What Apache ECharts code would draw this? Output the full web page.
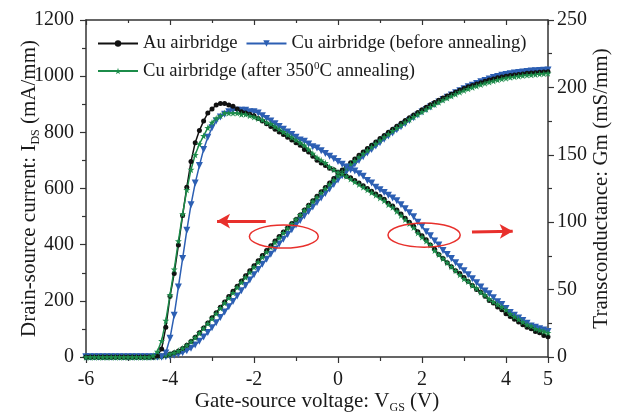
<!DOCTYPE html>
<html>
<head>
<meta charset="utf-8">
<script src="https://cdn.jsdelivr.net/npm/echarts@6/dist/echarts.min.js"></script>
<style>
  html, body { margin: 0; padding: 0; background: #fff; }
  #chart { width: 621px; height: 415px; }
</style>
</head>
<body>
<div id="chart"></div>
<script>
// gate-source voltage (V)
const vgs = [
  -6, -5.9, -5.8, -5.7, -5.6, -5.5, -5.4, -5.3, -5.2, -5.1,
  -5, -4.9, -4.8, -4.7, -4.6, -4.5, -4.4, -4.3, -4.2, -4.1,
  -4, -3.9, -3.8, -3.7, -3.6, -3.5, -3.4, -3.3, -3.2, -3.1,
  -3, -2.9, -2.8, -2.7, -2.6, -2.5, -2.4, -2.3, -2.2, -2.1,
  -2, -1.9, -1.8, -1.7, -1.6, -1.5, -1.4, -1.3, -1.2, -1.1,
  -1, -0.9, -0.8, -0.7, -0.6, -0.5, -0.4, -0.3, -0.2, -0.1,
  0, 0.1, 0.2, 0.3, 0.4, 0.5, 0.6, 0.7, 0.8, 0.9,
  1, 1.1, 1.2, 1.3, 1.4, 1.5, 1.6, 1.7, 1.8, 1.9,
  2, 2.1, 2.2, 2.3, 2.4, 2.5, 2.6, 2.7, 2.8, 2.9,
  3, 3.1, 3.2, 3.3, 3.4, 3.5, 3.6, 3.7, 3.8, 3.9,
  4, 4.1, 4.2, 4.3, 4.4, 4.5, 4.6, 4.7, 4.8, 4.9,
  5
];

// drain-source current (mA/mm), left axis
const idsAu = [
  0, 0, 0, 0, 0, 0, 0, 0, 0, 0,
  0, 0, 0, 0, 0, 0, 0, 1, 3, 6,
  10, 15, 21, 30, 42, 55, 70, 86, 103, 121,
  140, 158, 177, 196, 215, 234, 252, 271, 289, 307,
  325, 343, 361, 379, 396, 413, 429, 445, 460, 475,
  490, 506, 523, 540, 556, 572, 588, 604, 620, 636,
  652, 666, 679, 692, 705, 718, 730, 742, 754, 766,
  778, 789, 800, 811, 822, 832, 842, 852, 862, 871,
  880, 889, 898, 906, 914, 922, 929, 936, 943, 950,
  956, 962, 967, 972, 977, 982, 986, 990, 994, 997,
  1000, 1002, 1004, 1006, 1008, 1010, 1011, 1012, 1014, 1015,
  1016
];
const idsCuBefore = [
  0, 0, 0, 0, 0, 0, 0, 0, 0, 0,
  0, 0, 0, 0, 0, 0, 0, 0, 0, 1,
  3, 6, 10, 15, 22, 31, 43, 56, 71, 87,
  104, 122, 141, 160, 179, 198, 217, 236, 255, 274,
  293, 312, 330, 348, 366, 384, 402, 419, 436, 453,
  470, 486, 502, 518, 534, 550, 566, 582, 598, 614,
  630, 645, 659, 673, 687, 700, 713, 726, 739, 751,
  763, 775, 787, 798, 809, 820, 831, 842, 852, 862,
  872, 881, 890, 899, 908, 917, 925, 933, 941, 948,
  955, 962, 968, 974, 980, 985, 990, 995, 999, 1003,
  1006, 1009, 1011, 1013, 1015, 1017, 1018, 1019, 1020, 1021,
  1022
];
const idsCuAfter = [
  0, 0, 0, 0, 0, 0, 0, 0, 0, 0,
  0, 0, 0, 0, 0, 0, 0, 1, 3, 7,
  11, 16, 22, 31, 42, 55, 69, 85, 102, 119,
  137, 155, 174, 192, 211, 229, 248, 266, 284, 302,
  320, 338, 356, 374, 391, 408, 425, 442, 458, 474,
  490, 506, 522, 538, 554, 569, 585, 600, 615, 630,
  645, 659, 673, 686, 699, 712, 724, 736, 748, 760,
  772, 783, 794, 805, 816, 826, 836, 846, 855, 864,
  873, 882, 891, 899, 907, 915, 922, 929, 936, 943,
  949, 955, 960, 965, 970, 975, 979, 983, 987, 990,
  993, 996, 998, 1000, 1002, 1004, 1005, 1006, 1008, 1009,
  1010
];

// transconductance (mS/mm), right axis
const gmAu = [
  0, 0, 0, 0, 0, 0, 0, 0, 0, 0,
  0, 0, 0, 0, 0, 0, 0, 1, 6, 22,
  45, 62, 83, 105, 126, 145, 159, 168, 175, 181,
  184, 187, 188, 188, 187, 186, 184, 182, 181, 180,
  179, 177, 175, 173, 171, 169, 167, 165, 163, 161,
  159, 157, 154, 152, 149, 146, 144, 142, 140, 139,
  137, 136, 134, 133, 131, 129, 127, 125, 123, 121,
  119, 117, 114, 112, 109, 106, 103, 100, 97, 93,
  90, 87, 83, 80, 76, 73, 70, 67, 64, 62,
  59, 56, 53, 50, 48, 45, 42, 40, 37, 35,
  32, 30, 28, 26, 24, 22, 21, 19, 18, 16,
  15
];
const gmCuBefore = [
  0, 0, 0, 0, 0, 0, 0, 0, 0, 0,
  0, 0, 0, 0, 0, 0, 0, 0, 0, 3,
  14, 31, 52, 73, 94, 113, 129, 142, 154, 163,
  170, 175, 178, 180, 182, 183, 183, 183, 183, 182,
  182, 181, 179, 177, 175, 173, 171, 169, 167, 165,
  163, 161, 160, 158, 156, 155, 153, 151, 149, 147,
  145, 143, 141, 139, 138, 136, 134, 131, 129, 126,
  124, 122, 120, 118, 116, 113, 110, 107, 104, 100,
  97, 93, 90, 86, 83, 79, 76, 73, 70, 67,
  64, 61, 58, 55, 52, 49, 47, 44, 41, 39,
  36, 33, 31, 29, 27, 25, 23, 22, 21, 20,
  19
];
const gmCuAfter = [
  0, 0, 0, 0, 0, 0, 0, 0, 0, 0,
  0, 0, 0, 0, 0, 0, 1, 4, 12, 27,
  46, 65, 86, 106, 124, 139, 150, 158, 164, 170,
  174, 177, 179, 181, 181, 181, 181, 180, 180, 179,
  178, 177, 176, 174, 173, 171, 169, 167, 165, 163,
  161, 159, 157, 154, 151, 148, 146, 144, 141, 139,
  137, 136, 134, 132, 130, 128, 126, 124, 122, 120,
  118, 116, 113, 111, 108, 105, 102, 99, 96, 92,
  89, 86, 83, 79, 76, 73, 70, 67, 64, 61,
  58, 56, 53, 51, 48, 46, 43, 41, 39, 37,
  35, 32, 30, 28, 26, 24, 23, 21, 20, 19,
  18
];

const names = ['Au airbridge', 'Cu airbridge (before annealing)', 'Cu airbridge (after 350\u00b0C annealing)'];

// annotation marks in (V, mA/mm): ellipse [cx, cy, rx, ry], arrow [from, to]
const ellipses = [[-1.29, 429, 0.82, 41], [2.05, 434, 0.86, 43]];
const arrows = [[[-1.72, 484], [-2.88, 484]], [[3.19, 445], [4.16, 448]]];

const serif = '"Liberation Serif", "DejaVu Serif", serif';
const ink = '#1a1a1a';
const STAR = 'path://M50,0 L61,35 L98,35 L68,57 L79,91 L50,70 L21,91 L32,57 L2,35 L39,35 Z';
const looks = [
  { color: '#111111', symbol: 'circle', size: 5, rotate: 0 },
  { color: '#2c5fb3', symbol: 'triangle', size: 7, rotate: 180 },
  { color: '#1c8c4a', symbol: STAR, size: 7, rotate: 0 }
];

const pairs = (ys) => vgs.map((v, i) => [v, ys[i]]);

function curve(k, ys, yAxisIndex, extra) {
  const look = looks[k];
  return Object.assign({
    name: names[k],
    type: 'line',
    yAxisIndex,
    data: pairs(ys),
    symbol: look.symbol,
    symbolSize: look.size,
    symbolRotate: look.rotate,
    showSymbol: true,
    showAllSymbol: true,
    lineStyle: { color: look.color, width: 1.5 },
    itemStyle: { color: look.color },
    emphasis: { disabled: true }
  }, extra || {});
}

const arrowLines = {
  silent: true,
  symbol: ['none', 'arrow'],
  symbolSize: [11, 13],
  label: { show: false },
  lineStyle: { color: '#e8302c', width: 3, type: 'solid' },
  data: arrows.map(([a, b]) => [{ coord: a }, { coord: b }])
};

const axisLine = { show: true, onZero: false, lineStyle: { color: '#333', width: 1.5 } };
const tickStyle = { color: '#333', width: 1.2 };
const labelStyle = { color: ink, fontFamily: serif, fontSize: 20, formatter: (v) => String(v) };
const nameStyle = {
  color: ink, fontFamily: serif, fontSize: 21,
  rich: { sub: { fontFamily: serif, fontSize: 12, color: ink, padding: [14, 0, 0, 0] } }
};

const legendBase = {
  left: 97,
  padding: 0,
  itemWidth: 40,
  itemHeight: 8,
  itemGap: 8,
  selectedMode: false,
  textStyle: {
    color: ink, fontFamily: serif, fontSize: 18.6,
    rich: {
      t: { color: ink, fontFamily: serif, fontSize: 18.6 },
      sup: { color: ink, fontFamily: serif, fontSize: 11, padding: [0, 0, 9, 0] }
    }
  },
  formatter: (n) => n === names[2] ? '{t|Cu airbridge (after 350}{sup|0}{t|C annealing)}' : n
};

const option = {
  animation: false,
  backgroundColor: '#fff',
  grid: { left: 86, right: 73, top: 20, bottom: 58, containLabel: false, outerBoundsMode: 'none' },
  legend: [
    Object.assign({ top: 34, data: [names[0], names[1]] }, legendBase),
    Object.assign({ top: 61, data: [names[2]] }, legendBase)
  ],
  xAxis: [
    {
      type: 'value', min: -6, max: 5, interval: 2,
      name: 'Gate-source voltage: V{sub|GS} (V)',
      nameLocation: 'middle', nameGap: 31, nameMoveOverlap: false, nameTextStyle: nameStyle,
      axisLine,
      axisTick: { length: 6, lineStyle: tickStyle },
      minorTick: { show: true, splitNumber: 2, length: 4, lineStyle: tickStyle },
      axisLabel: Object.assign({ margin: 13 }, labelStyle),
      splitLine: { show: false }
    },
    {
      type: 'value', position: 'top', min: -6, max: 5, interval: 2,
      axisLine,
      axisTick: { inside: true, length: 5, lineStyle: tickStyle },
      minorTick: { show: true, splitNumber: 2, length: 3, lineStyle: tickStyle },
      axisLabel: { show: false },
      splitLine: { show: false }
    }
  ],
  yAxis: [
    {
      type: 'value', min: 0, max: 1200, interval: 200,
      name: 'Drain-source current: I{sub|DS} (mA/mm)',
      nameLocation: 'middle', nameRotate: 90, nameGap: 44, nameMoveOverlap: false, nameTextStyle: nameStyle,
      axisLine,
      axisTick: { length: 6, lineStyle: tickStyle },
      minorTick: { show: true, splitNumber: 2, length: 4, lineStyle: tickStyle },
      axisLabel: Object.assign({ margin: 12 }, labelStyle),
      splitLine: { show: false }
    },
    {
      type: 'value', min: 0, max: 250, interval: 50, position: 'right',
      name: 'Transconductance: Gm (mS/mm)',
      nameLocation: 'middle', nameRotate: 90, nameGap: 43, nameMoveOverlap: false, nameTextStyle: nameStyle,
      axisLine,
      axisTick: { length: 6, lineStyle: tickStyle },
      minorTick: { show: true, splitNumber: 2, length: 4, lineStyle: tickStyle },
      axisLabel: Object.assign({ margin: 9 }, labelStyle),
      splitLine: { show: false }
    }
  ],
  series: [
    curve(1, idsCuBefore, 0, { markLine: arrowLines }),
    curve(0, idsAu, 0),
    curve(2, idsCuAfter, 0),
    curve(1, gmCuBefore, 1),
    curve(0, gmAu, 1),
    curve(2, gmCuAfter, 1)
  ]
};

const chart = echarts.init(document.getElementById('chart'));
chart.setOption(option);

function drawEllipses() {
  const toPx = (p) => chart.convertToPixel({ xAxisIndex: 0, yAxisIndex: 0 }, p);
  chart.setOption({
    graphic: ellipses.map(([cx, cy, rx, ry]) => {
      const c = toPx([cx, cy]);
      const e = toPx([cx + rx, cy + ry]);
      return {
        type: 'ellipse', silent: true, z: 10,
        shape: { cx: c[0], cy: c[1], rx: Math.abs(e[0] - c[0]), ry: Math.abs(e[1] - c[1]) },
        style: { fill: 'none', stroke: '#e8302c', lineWidth: 1.5 }
      };
    })
  });
}
drawEllipses();
</script>
</body>
</html>
